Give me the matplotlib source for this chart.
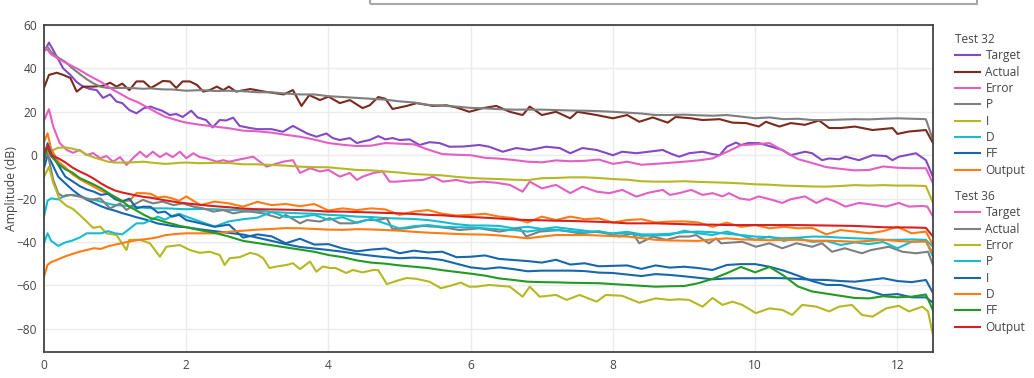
import matplotlib
matplotlib.use("Agg")
import matplotlib.pyplot as plt
from matplotlib.patches import Rectangle

plt.rcParams['font.family'] = ['Open Sans', 'DejaVu Sans']

# ---------------- data ----------------
freq = [0, 0.05, 0.1, 0.2, 0.3, 0.4, 0.5, 0.6, 0.7, 0.8, 0.9, 1.0, 1.1, 1.2, 1.3, 1.4,
        1.5, 1.6, 1.7, 1.8, 1.9, 2.0, 2.2, 2.4, 2.6, 2.8, 3.0, 3.2, 3.4, 3.6, 3.8, 4.0,
        4.2, 4.4, 4.6, 4.8, 5.0, 5.2, 5.4, 5.6, 5.8, 6.0, 6.2, 6.4, 6.6, 6.8, 7.0, 7.2,
        7.4, 7.6, 7.8, 8.0, 8.2, 8.4, 8.6, 8.8, 9.0, 9.2, 9.4, 9.6, 9.8, 10.0, 10.2,
        10.4, 10.6, 10.8, 11.0, 11.2, 11.4, 11.6, 11.8, 12.0, 12.2, 12.4, 12.5]

# noisier traces carry their own frequency samples
t32_target_f = [0, 0.07, 0.18, 0.27, 0.37, 0.46, 0.55, 0.65, 0.74, 0.83, 0.93, 1.02, 1.1, 1.2, 1.3, 1.4,
                1.5, 1.56, 1.66, 1.77, 1.86, 1.95, 2.07, 2.16, 2.28, 2.37, 2.47, 2.56, 2.66, 2.75, 2.9, 3.0,
                3.2, 3.36, 3.5, 3.7, 3.83, 3.97, 4.06, 4.16, 4.3, 4.4, 4.48, 4.58, 4.7, 4.8, 4.9, 5.0,
                5.14, 5.28, 5.42, 5.56, 5.7, 5.9, 6.12, 6.26, 6.45, 6.64, 6.83, 7.06, 7.25, 7.4, 7.57, 7.77,
                8.0, 8.13, 8.33, 8.5, 8.7, 8.8, 8.93, 9.07, 9.26, 9.4, 9.5, 9.6, 9.73, 9.8, 9.9, 10.05,
                10.2, 10.38, 10.5, 10.7, 10.8, 10.94, 11.04, 11.18, 11.27, 11.46, 11.65, 11.84, 11.93, 12.02,
                12.26, 12.4, 12.5]
t32_target = [47.7, 51.9, 45.4, 40, 37, 33.7, 31.6, 30.5, 30, 26.4, 28, 24.7, 24, 20.8, 19.3, 21.6,
              22.4, 21.6, 20.5, 18.5, 19, 17.6, 20.5, 17.4, 16.2, 12.8, 16.2, 16, 17.3, 13.5, 12.5, 12,
              12, 10.8, 13.5, 10, 8.5, 10, 7.9, 7, 7.9, 5.6, 6.3, 7, 8.8, 7.3, 7.9, 7,
              7.3, 4.7, 6, 5.6, 3.9, 4, 4.7, 3.9, 1.6, 3.3, 2.4, 3.9, 3.3, 0.9, 3.3, 2.4,
              0, 1.6, 0.9, 1.6, 2.4, 0.9, -0.7, 0.9, 1.6, 0.5, 0, 3.9, 5.8, 4.7, 5.6, 5.6,
              4.2, 2.4, 0, 1.6, 0.9, -2.3, -1.5, -1.9, -0.7, -2.3, 0, -0.4, -2.3, -0.7,
              0.9, -2.3, -10]

t32_actual_f = [0, 0.07, 0.18, 0.27, 0.37, 0.46, 0.55, 0.69, 0.83, 0.93, 1.02, 1.1, 1.2, 1.3, 1.4, 1.5,
                1.58, 1.67, 1.77, 1.86, 1.95, 2.05, 2.15, 2.24, 2.33, 2.43, 2.52, 2.6, 2.7, 2.9, 3.1, 3.37,
                3.5, 3.62, 3.73, 3.88, 4.0, 4.16, 4.3, 4.48, 4.58, 4.7, 4.8, 4.9, 5.1, 5.24, 5.47, 5.66,
                5.8, 5.98, 6.17, 6.36, 6.55, 6.73, 6.83, 7.0, 7.2, 7.4, 7.5, 7.77, 8.0, 8.2, 8.37, 8.56,
                8.77, 8.88, 9.1, 9.26, 9.5, 9.68, 9.87, 10.05, 10.15, 10.34, 10.5, 10.7, 10.9, 11.04, 11.2,
                11.4, 11.65, 11.93, 12.0, 12.16, 12.4, 12.5]
t32_actual = [31, 37, 38, 37, 35.6, 29.3, 31.6, 31.6, 32, 33.4, 31.6, 33, 30, 34, 34, 31,
              32.4, 34.2, 34, 31, 34, 34, 32.4, 29.3, 30, 31.6, 30, 31.6, 29.3, 30.5, 29.3, 28,
              30, 22.7, 27.7, 25.4, 27, 24, 25.4, 21.7, 23, 26.8, 26, 21.3, 22.7, 24, 22.7, 23,
              22, 20, 21.7, 22.7, 20, 18.5, 22.4, 18.5, 20, 17, 20, 18.5, 17, 18.5, 15.4, 17.4,
              15, 17.6, 17, 16.2, 16.6, 15, 14.8, 13.2, 15.4, 13.2, 14.8, 14, 16, 12.5, 12.5,
              13.2, 11.6, 12.5, 9.8, 10.9, 11.6, 5.6]

t32_error_f = [0, 0.07, 0.13, 0.22, 0.32, 0.41, 0.5, 0.6, 0.69, 0.79, 0.88, 0.97, 1.07, 1.16, 1.25, 1.35,
               1.44, 1.53, 1.63, 1.72, 1.81, 1.91, 2.0, 2.1, 2.19, 2.28, 2.43, 2.52, 2.6, 2.7, 2.94, 3.13,
               3.36, 3.5, 3.6, 3.74, 3.88, 4.0, 4.16, 4.3, 4.4, 4.48, 4.63, 4.76, 4.86, 4.95, 5.14, 5.33,
               5.47, 5.61, 5.8, 5.98, 6.17, 6.36, 6.55, 6.73, 6.83, 7.0, 7.2, 7.4, 7.57, 7.77, 7.95, 8.13,
               8.33, 8.5, 8.7, 8.8, 8.93, 9.1, 9.26, 9.4, 9.54, 9.63, 9.78, 9.92, 10.05, 10.24, 10.38, 10.5,
               10.7, 10.86, 11.0, 11.13, 11.27, 11.46, 11.65, 11.84, 12.02, 12.16, 12.35, 12.42, 12.5]
t32_error = [16, 21.2, 13.2, 5.6, 2.4, 1.1, 2.4, 0, 1, -1.4, -0.4, -3, -0.9, -4.5, -1.4, 1.6,
             -0.9, 1.6, -0.9, 0.9, -0.9, 1.6, -1.4, 0.9, -0.9, -1.4, -3, -2.3, -3, -2.3, -0.7, -5.3,
             -3, -2.3, -8.2, -6, -7.5, -6.8, -9.9, -8.2, -11.4, -9.9, -8.2, -7.5, -12.2, -12.2, -11.7, -11.4,
             -9.9, -12.2, -11.4, -12.7, -12.2, -12.7, -13.7, -16.8, -12.2, -15.3, -13.7, -17.5, -14.5, -16.8, -17.5, -16,
             -19.1, -17.3, -16, -18.3, -17.5, -16, -18.3, -17.5, -19, -17.5, -19.9, -20.6, -19, -20.6, -22, -20.3,
             -19, -22, -19.9, -21.4, -23.7, -22, -22.8, -23.7, -22, -23.7, -23.4, -23.7, -28.3]

t32_p = [48.5, 50, 47.5, 45, 43, 40, 37.5, 35, 33, 31.5, 31, 31, 31, 31, 30.8, 30.6,
         30.8, 30.5, 30.3, 30.3, 30, 29.7, 30, 29.6, 29.7, 29.5, 29, 29, 28.4, 28, 28, 27.2,
         26.8, 26.4, 26, 25.6, 24.8, 24.3, 23.2, 22.8, 22.4, 21.8, 21.6, 21.2, 21, 21, 21, 20.8,
         20.6, 20.5, 20.3, 20, 19.6, 19.2, 18.5, 18.5, 18.7, 18.4, 18.2, 18.5, 17.8, 17, 17.4,
         16.6, 16.8, 16.2, 16.2, 16.4, 16.6, 16.5, 16.8, 17, 16.8, 16.6, 7]
t32_i = [1.5, 1.8, 2, 3.4, 3.6, 3, 2.2, 0.3, -1, -2, -3, -3.4, -3.4, -3.3, -3.2, -3.0,
         -3.4, -3.7, -4, -3.8, -3.5, -3.4, -3.7, -3.5, -3.6, -4.2, -4.2, -4.5, -4.8, -5.3, -5.5, -5.6,
         -6.2, -6.8, -7, -7.5, -8, -8.7, -9, -9.3, -10, -10.5, -10.8, -11, -11.3, -11.5, -10.6, -10.5,
         -10.2, -10.2, -10.5, -11, -11.3, -12, -12.2, -12.2, -12, -12.3, -12.5, -12.7, -13, -13.4, -13.6,
         -14, -14.2, -14.4, -14.5, -14.2, -13.8, -14, -13.8, -14, -14, -14.2, -22]
t32_d = [-28.3, -21, -19.9, -20.4, -18.5, -18.3, -18.8, -19.9, -20.6, -21.4, -22.3, -23, -23.2, -23.5, -23.8, -24.2,
         -24.5, -24.5, -24.5, -24.6, -24.8, -24.9, -24.8, -24.9, -25.2, -25.4, -25.6, -26.2, -26.5, -26.8, -27, -27.5,
         -27.8, -28.3, -28.5, -29, -29.2, -29.4, -29.9, -30.8, -31.8, -32.4, -32.4, -32.6, -33.7, -33, -34, -33.2,
         -34, -34.8, -35.5, -36, -35.3, -36.5, -36.5, -36.2, -35.5, -35.2, -35.5, -36.2, -36.8, -37.5, -37.8,
         -38.3, -38, -37.5, -37.6, -38, -38.3, -38.5, -39, -39, -38.8, -39, -42.2]
t32_ff = [-6, 0, -3, -9.9, -13, -16, -18.5, -20.5, -22, -23.5, -24.7, -25.6, -26.7, -27.6, -28.6, -29.4,
          -30.4, -31.5, -32, -32.6, -33, -33.2, -34.2, -35, -35.8, -36.6, -38, -39.5, -41, -42.3, -43, -43.7,
          -44.5, -45.5, -46.3, -47, -47.5, -47.2, -47.5, -48.3, -50, -51.7, -52.4, -51.7, -52.5, -53.5, -53.2, -53.2,
          -53.2, -53.4, -54.1, -54.3, -55, -55.7, -54.8, -55.2, -55.8, -56.5, -57.2, -56.8, -56.7, -56.7, -56.6,
          -56.7, -57, -57.4, -57.5, -58, -58.3, -57.5, -56.7, -58, -58.5, -57.5, -63.5]
t32_output = [6, 10.1, 3, -3, -5.6, -8.8, -11, -12.8, -14.5, -16.3, -17.8, -19.3, -21, -21, -17.5, -17.5,
              -17.8, -19.5, -19.1, -19.9, -21, -19, -23, -21.4, -22.2, -23.7, -21.5, -23, -22.5, -23.5, -22.5, -25.5,
              -24.5, -25.3, -24.5, -25, -27.5, -26, -25.3, -27, -27.8, -27.5, -27, -28.3, -29, -31, -28.3, -29.9,
              -28.3, -29.5, -29.1, -31, -29.9, -29.5, -31, -30.6, -30.5, -31, -33, -31.1, -33, -32.2, -33.7,
              -33, -33.7, -33.5, -36.5, -34.5, -35.2, -36, -35, -33, -36, -35.2, -41.4]

t36_target = [49, 48.5, 46.5, 44.5, 42.7, 41, 39.3, 37.3, 35.5, 33.8, 31.6, 29.6, 27.8, 26, 24.7, 23,
              21.2, 19.4, 17.8, 16.8, 15.8, 15, 14, 13.2, 12.4, 11.3, 11, 10.4, 9.4, 8.5, 7.2, 5.6,
              4.8, 4.2, 4.4, 5.6, 5.3, 5, 2.6, 0.5, 0.2, 0, -1.2, -1.6, -2.2, -3, -3.3, -2.4,
              -2.8, -2.6, -2, -4, -3, -4.4, -4, -3.5, -3, -2.4, -1.5, 1.5, 4.6, 5, 5.6,
              2, -1.8, -3.6, -5.5, -6.3, -7, -6.8, -5.2, -5.8, -6, -6, -13]

t36_actual_f = [0, 0.05, 0.13, 0.2, 0.27, 0.37, 0.5, 0.65, 0.79, 0.93, 1.07, 1.16, 1.25, 1.39, 1.53, 1.67,
                1.82, 1.95, 2.1, 2.24, 2.38, 2.52, 2.66, 2.8, 2.9, 3.08, 3.31, 3.4, 3.6, 3.7, 3.88, 4.02,
                4.16, 4.34, 4.53, 4.7, 4.82, 4.9, 5.1, 5.33, 5.52, 5.7, 5.84, 6.12, 6.4, 6.69, 6.78, 6.97,
                7.25, 7.53, 7.8, 8.09, 8.28, 8.37, 8.56, 8.75, 8.93, 9.07, 9.17, 9.35, 9.45, 9.52, 9.82, 10.01,
                10.2, 10.38, 10.58, 10.8, 10.94, 11.08, 11.26, 11.5, 11.63, 11.88, 12.07, 12.26, 12.43, 12.5]
t36_actual = [-2, 1, -11.4, -17.6, -19.1, -18.3, -19.1, -20.6, -19.9, -24.5, -22.2, -25.3, -23, -20.6, -22.2, -21.4,
              -23, -22.2, -23.7, -24.5, -26, -25.3, -26.8, -26, -26, -26.8, -29, -27.5, -31.4, -29.9, -30.6, -29,
              -31.4, -31.4, -29.9, -29.9, -29, -34.1, -33.7, -32.6, -33, -33.7, -34.5, -33.7, -35.2, -33.7, -37.5, -35.2,
              -34.5, -36, -35.2, -37.5, -36, -40.6, -37.5, -39, -37.5, -37.5, -36.8, -40.6, -38.3, -40.6, -39.9, -42.2,
              -40.6, -42.9, -40.6, -42.2, -40.6, -44.5, -42.9, -45.2, -43.7, -42.2, -44.5, -45.2, -44.5, -50.6]

t36_error_f = [0, 0.07, 0.13, 0.18, 0.22, 0.32, 0.41, 0.5, 0.6, 0.69, 0.79, 0.88, 1.02, 1.16, 1.2, 1.35,
               1.49, 1.63, 1.72, 1.91, 2.05, 2.19, 2.33, 2.47, 2.54, 2.61, 2.75, 2.9, 3.0, 3.08, 3.17, 3.27,
               3.41, 3.5, 3.6, 3.74, 3.83, 3.92, 4.02, 4.1, 4.25, 4.34, 4.48, 4.63, 4.7, 4.82, 4.95, 5.1,
               5.24, 5.42, 5.58, 5.7, 5.86, 5.98, 6.08, 6.26, 6.55, 6.73, 6.83, 6.97, 7.2, 7.35, 7.53, 7.77,
               7.9, 8.13, 8.37, 8.6, 8.8, 8.93, 9.07, 9.26, 9.4, 9.54, 9.68, 9.82, 10.01, 10.2, 10.38, 10.52,
               10.66, 10.86, 11.04, 11.18, 11.36, 11.5, 11.65, 11.84, 12.02, 12.16, 12.35, 12.43, 12.5]
t36_error = [-10, -5.3, -12.8, -16.8, -20.6, -23.4, -24.8, -27.5, -30.6, -33.5, -32.9, -36, -36.8, -43.7, -39, -39,
             -40.6, -46.8, -42.2, -41.4, -43.7, -45, -44.5, -46, -50.6, -47.5, -47, -45, -45.8, -47.4, -52, -51.3,
             -50.6, -49.8, -52.5, -49, -53.7, -51.3, -52, -52, -54.3, -52.9, -54, -52.9, -53, -59.4, -58, -56.6,
             -57, -58.3, -61.3, -60.3, -58.7, -60.6, -60.6, -59.8, -60.6, -65.2, -60.6, -65.2, -64.4, -66.7, -64.4, -67.5,
             -64.4, -64.8, -68, -66, -66.7, -66.4, -66.7, -69.8, -65.8, -69, -67.5, -69, -72.8, -70.6, -71.3, -73.6,
             -69, -69.8, -72, -69.8, -69, -73.6, -74.4, -70.6, -69.4, -72, -69.8, -72, -82.9]

t36_p = [-40.6, -36, -39.5, -41.8, -40.2, -39.3, -38, -36, -36, -36, -35, -36, -36.5, -34, -31.4, -31.4,
         -30, -28.3, -29.7, -28, -27, -28.3, -30.6, -32.9, -30.5, -29.5, -28.8, -26.2, -28.5, -28.5, -27.5, -29.8,
         -28.6, -31.2, -29.3, -31.5, -33.8, -32.7, -32.2, -33, -33.2, -33.3, -33.7, -34.2, -34.5, -35.2, -34.3, -34.5,
         -35, -35.6, -35, -36.3, -36, -37.2, -37, -36.8, -34.8, -36, -36.8, -35.2, -37, -39, -37.5,
         -39.5, -38.3, -39.9, -39.5, -41.4, -40.2, -41, -40, -42.9, -39.9, -39.4, -46.8]
t36_i = [-2, 5.5, 1, -4.5, -9.9, -12, -14.2, -15.8, -16.8, -18.3, -17.8, -20.3, -21.4, -20, -24.5, -23.7,
         -23.8, -26.5, -26, -28.3, -27.5, -29.9, -31.4, -33, -32, -38, -36.5, -37.4, -40.6, -38.5, -41.2, -41,
         -43, -44.3, -43.5, -43, -45.2, -44, -44.8, -44.5, -47, -46.8, -46.2, -47.8, -48.3, -48.8, -49.5, -48.2,
         -50.4, -49.8, -51.2, -51, -50.8, -52.4, -50.8, -51.8, -51.4, -52, -52.9, -50.6, -50.2, -50.2, -51.4,
         -53.2, -55.5, -58, -59.8, -59.8, -61.3, -62.5, -64.5, -64, -65.5, -65.5, -68]
t36_d = [-56, -50.5, -49.3, -48, -46.6, -45.5, -44.5, -43.7, -42.9, -43.2, -42, -41.2, -40.5, -39.8, -39.2, -38.8,
         -38.4, -37.8, -36.9, -36.5, -36.2, -36, -36, -36, -35.3, -34.8, -34.3, -34, -33.6, -33.7, -34, -34.3,
         -34.4, -34.1, -34.2, -34.5, -34.8, -35.3, -35.7, -36, -36.3, -36.5, -36.6, -37, -37.6, -38.3, -37.5, -36.8,
         -36.8, -36.8, -37, -37.3, -37.5, -38.2, -39, -39.3, -39.4, -39.5, -38.8, -38.3, -38.8, -39, -39.2,
         -39, -39, -39.4, -39.4, -39.6, -39.9, -39.5, -39, -39.5, -39.9, -39.8, -45.2]
t36_ff = [-1, 3.3, -0.5, -4, -6.5, -8, -10.5, -12, -13.5, -15.2, -17.3, -19.3, -21.2, -23.7, -25.5, -27.4,
          -29, -29.7, -30.8, -31.6, -32.5, -33.2, -34.6, -35.8, -37.5, -39.5, -40.5, -41.5, -42.5, -43.5, -44.5, -46,
          -47, -48.5, -49.5, -50, -50.8, -51.4, -52, -53, -53.8, -54.6, -55.5, -56.8, -57.5, -58.3, -58.5, -58.6,
          -58.8, -58.9, -59, -59.4, -59.8, -60.2, -60.6, -60.4, -60.3, -59, -57, -54.4, -51.5, -54, -51.5,
          -55.5, -60.5, -62.8, -63.8, -64.8, -65.8, -66, -65, -65.5, -65.2, -64.2, -71.5]
t36_output = [1, 4.5, 0, -1.4, -3.3, -5.7, -7.5, -9, -10.8, -13, -14.8, -16.3, -17.2, -17.9, -18.6, -19.2,
              -19.6, -20.2, -20.8, -21.3, -21.8, -22.2, -22.9, -23.5, -24, -24.6, -24.9, -25, -25.1, -25.3, -25.6, -26,
              -26, -26.2, -26.4, -26.6, -26.8, -27.1, -27.5, -27.7, -28.2, -28.5, -28.8, -29.2, -29.6, -29.9, -30, -30.2,
              -30.3, -30.5, -30.7, -31, -31.4, -31.4, -31.4, -31.6, -31.8, -32, -32, -32.2, -32.2, -32.2, -32.2,
              -32.2, -32.2, -32.3, -32.4, -32.5, -32.6, -32.9, -33.2, -33.3, -33.3, -33.5, -37.5]

series_names = ["Target", "Actual", "Error", "P", "I", "D", "FF", "Output"]
test32 = [(t32_target_f, t32_target), (t32_actual_f, t32_actual), (t32_error_f, t32_error),
          (freq, t32_p), (freq, t32_i), (freq, t32_d), (freq, t32_ff), (freq, t32_output)]
test36 = [(freq, t36_target), (t36_actual_f, t36_actual), (t36_error_f, t36_error), (freq, t36_p),
          (freq, t36_i), (freq, t36_d), (freq, t36_ff), (freq, t36_output)]
colors32 = ["#8449c4", "#7a2a1f", "#e35fc4", "#7f7f7f", "#b5b821", "#17bccf", "#1667ae", "#ff7b14"]
colors36 = ["#e35fc4", "#7f7f7f", "#b5b821", "#17bccf", "#1667ae", "#ff7b14", "#219b21", "#d92020"]

# ---------------- figure ----------------
W, H = 1034, 378
fig = plt.figure(figsize=(W / 100, H / 100), dpi=100)
L, R, T, B = 44, 933, 25, 352
ax = fig.add_axes([L / W, 1 - B / H, (R - L) / W, (B - T) / H])

h32, h36 = [], []
for (xs, vals), col, name in zip(test32, colors32, series_names):
    ln, = ax.plot(xs, vals, color=col, lw=1.5, label=name, solid_joinstyle='round')
    h32.append(ln)
for (xs, vals), col, name in zip(test36, colors36, series_names):
    ln, = ax.plot(xs, vals, color=col, lw=1.5, label=name, solid_joinstyle='round')
    h36.append(ln)

ax.set_xlim(0, 12.5)
ax.set_ylim(-90.7, 60)
ax.set_xticks([0, 2, 4, 6, 8, 10, 12])
ax.set_yticks([-80, -60, -40, -20, 0, 20, 40, 60])
ax.set_yticklabels(["\u221280", "\u221260", "\u221240", "\u221220", "0", "20", "40", "60"])
ax.grid(True, color="#ebebeb", lw=1)
ax.set_axisbelow(True)
ax.tick_params(length=0, labelsize=8.6, colors="#444444", pad=5)
for s in ax.spines.values():
    s.set_color("#444444")
    s.set_linewidth(1.3)
ax.set_ylabel("Amplitude (dB)", fontsize=8.8, color="#444444")
ax.yaxis.set_label_coords((18 - L) / (R - L), 0.5)

# top box partially visible
fig.patches.append(Rectangle((370 / W, 1 - 4 / H), (977 - 370) / W, 0.2,
                             transform=fig.transFigure, fill=False,
                             edgecolor="#a8a8a8", lw=1.5))

leg_kw = dict(frameon=False, fontsize=8.6, handlelength=2.1, handletextpad=0.45,
              labelspacing=0.28, borderpad=0, borderaxespad=0, alignment='left',
              labelcolor="#444444", title_fontsize=8.6)
lg1 = fig.legend(handles=h32, title="Test 32", loc="upper left",
                 bbox_to_anchor=(955 / W, 1 - 33 / H), **leg_kw)
lg1.get_title().set_color("#444444")
lg2 = fig.legend(handles=h36, title="Test 36", loc="upper left",
                 bbox_to_anchor=(955 / W, 1 - 190 / H), **leg_kw)
lg2.get_title().set_color("#444444")

fig.savefig("out.png", dpi=100)
